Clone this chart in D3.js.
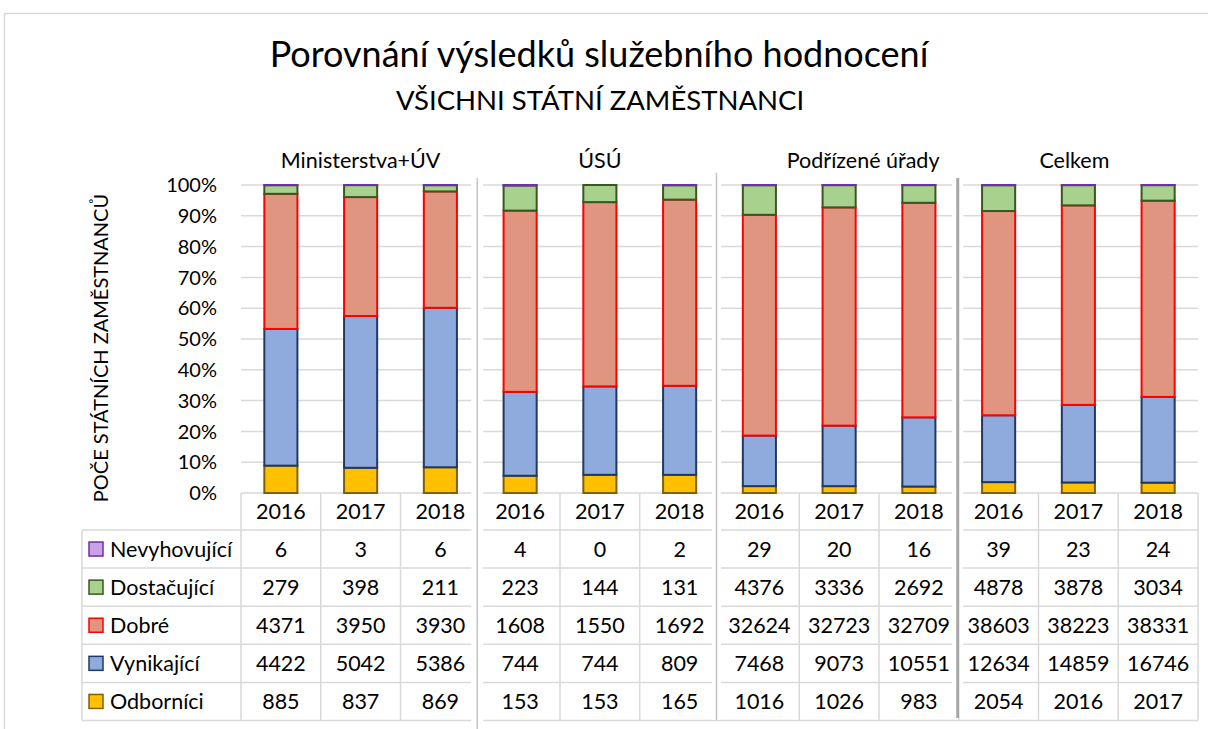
<!DOCTYPE html>
<html>
<head>
<meta charset="UTF-8">
<title>Porovnání výsledků služebního hodnocení</title>
<style>
  body { margin: 0; background: #fff; }
  svg { display: block; font-family: Lato, "Open Sans", sans-serif; }
</style>
</head>
<body>
<svg></svg>
<script src="https://d3js.org/d3.v7.min.js"></script>
<script>

// data
const groups = ["Ministerstva+ÚV", "ÚSÚ", "Podřízené úřady", "Celkem"];
const years = ["2016", "2017", "2018"];
const categories = ["Odborníci", "Vynikající", "Dobré", "Dostačující", "Nevyhovující"];

const odbornici    = [885, 837, 869, 153, 153, 165, 1016, 1026, 983, 2054, 2016, 2017];
const vynikajici   = [4422, 5042, 5386, 744, 744, 809, 7468, 9073, 10551, 12634, 14859, 16746];
const dobre        = [4371, 3950, 3930, 1608, 1550, 1692, 32624, 32723, 32709, 38603, 38223, 38331];
const dostacujici  = [279, 398, 211, 223, 144, 131, 4376, 3336, 2692, 4878, 3878, 3034];
const nevyhovujici = [6, 3, 6, 4, 0, 2, 29, 20, 16, 39, 23, 24];

const yTicks = [0, 0.1, 0.2, 0.3, 0.4, 0.5, 0.6, 0.7, 0.8, 0.9, 1];

const fills   = ["#FFC000", "#8FAADC", "#E09580", "#A9D18E", "#CBA2EA"];
const strokes = ["#7F6000", "#203864", "#FF0000", "#385723", "#7030A0"];

let width = 1208, height = 729;
let svg = d3.select("svg").attr("width", width).attr("height", height);

// one row per column of the chart
let rows = [];
groups.forEach((g, gi) => {
  years.forEach((yr, yi) => {
    let i = gi * 3 + yi;
    rows.push({
      key: g + "|" + yr, group: g, year: yr,
      "Odborníci": odbornici[i], "Vynikající": vynikajici[i], "Dobré": dobre[i],
      "Dostačující": dostacujici[i], "Nevyhovující": nevyhovujici[i]
    });
  });
});

let x = d3.scaleBand().domain(rows.map(d => d.key)).range([241, 1198]);
let y = d3.scaleLinear().domain([0, 1]).range([493, 185]);
let barW = x.bandwidth() * 0.415;

// chart frame
svg.append("rect").attr("x", 4.5).attr("y", 13.5).attr("width", 1300).attr("height", 800)
  .attr("fill", "none").attr("stroke", "#d9d9d9").attr("stroke-width", 1.5);

// titles
svg.append("text").attr("x", 599).attr("y", 67).attr("text-anchor", "middle")
  .style("font-size", "36px").text("Porovnání výsledků služebního hodnocení");
svg.append("text").attr("x", 600).attr("y", 110).attr("text-anchor", "middle")
  .style("font-size", "27.5px").text("VŠICHNI STÁTNÍ ZAMĚSTNANCI");

// group headings
groups.forEach((g, gi) => {
  let cx = x(g + "|2017") + x.bandwidth() / 2 + (gi == 2 ? 24 : 0) + (gi == 3 ? -4 : 0);
  svg.append("text").attr("x", cx).attr("y", 168).attr("text-anchor", "middle")
    .style("font-size", "21.5px").text(g);
});

// gridlines
svg.append("g").selectAll("line").data(yTicks).enter().append("line")
  .attr("x1", 241).attr("x2", 1198)
  .attr("y1", d => y(d)).attr("y2", d => y(d))
  .attr("stroke", "#d9d9d9").attr("stroke-width", 1.5);

// y axis labels
svg.append("g").selectAll("text").data(yTicks).enter().append("text")
  .attr("x", 217).attr("y", d => y(d)).attr("dy", "0.36em")
  .attr("text-anchor", "end").style("font-size", "20px")
  .text(d => d3.format(".0%")(d));

svg.append("text")
  .attr("transform", "translate(108,348) rotate(-90)")
  .attr("text-anchor", "middle").style("font-size", "20px")
  .text("POČE STÁTNÍCH ZAMĚSTNANCŮ");

// stacked bars, 100 %
let stack = d3.stack().keys(categories).offset(d3.stackOffsetExpand);
let series = stack(rows);

svg.append("g").selectAll("g").data(series).enter().append("g")
  .attr("fill", (d, i) => fills[i]).attr("stroke", (d, i) => strokes[i])
  .attr("stroke-width", 2)
  .selectAll("rect").data(d => d).enter().append("rect")
    .attr("x", d => x(d.data.key) + (x.bandwidth() - barW) / 2)
    .attr("y", d => y(d[1]))
    .attr("width", barW)
    .attr("height", d => y(d[0]) - y(d[1]));

// data table
let rowH = 38.1;
let tableTop = 493, headH = 37;
let tableRows = categories.slice().reverse();
let table = svg.append("g").attr("stroke", "#d9d9d9").attr("stroke-width", 1.5);
let tableBottom = tableTop + headH + rowH * tableRows.length;

for (let r = 0; r <= tableRows.length; r++) {
  let yy = tableTop + headH + r * rowH;
  table.append("line").attr("x1", 82).attr("x2", 1198).attr("y1", yy).attr("y2", yy);
}
rows.forEach(d => {
  table.append("line").attr("x1", x(d.key)).attr("x2", x(d.key))
    .attr("y1", tableTop).attr("y2", tableBottom);
});
table.append("line").attr("x1", 1198).attr("x2", 1198).attr("y1", tableTop).attr("y2", tableBottom);
table.append("line").attr("x1", 82).attr("x2", 82).attr("y1", tableTop + headH).attr("y2", tableBottom);

// year header
svg.append("g").selectAll("text").data(rows).enter().append("text")
  .attr("x", d => x(d.key) + x.bandwidth() / 2)
  .attr("y", tableTop + headH / 2).attr("dy", "0.36em")
  .attr("text-anchor", "middle").style("font-size", "21.5px")
  .text(d => d.year);

tableRows.forEach((c, r) => {
  let cy = tableTop + headH + r * rowH + rowH / 2;
  let ci = categories.indexOf(c);
  svg.append("rect").attr("x", 89).attr("y", cy - 7).attr("width", 14).attr("height", 14)
    .attr("fill", fills[ci]).attr("stroke", strokes[ci]).attr("stroke-width", 1.5);
  svg.append("text").attr("x", 110).attr("y", cy).attr("dy", "0.36em")
    .style("font-size", "21.5px").text(c);
  svg.append("g").selectAll("text").data(rows).enter().append("text")
    .attr("x", d => x(d.key) + x.bandwidth() / 2)
    .attr("y", cy).attr("dy", "0.36em")
    .attr("text-anchor", "middle").style("font-size", "21.5px")
    .text(d => d[c]);
});

// group separators, with a white gap where they cross the grid
let seps = [
  { after: 0, top: 178, bottom: 729, w: 1.5, color: "#c4c4c4", gap: 12 },
  { after: 1, top: 173, bottom: 720, w: 1.5, color: "#c4c4c4", gap: 9 },
  { after: 2, top: 178, bottom: 718, w: 3, color: "#a6a6a6", gap: 11 }
];
seps.forEach(s => {
  let sx = x(groups[s.after + 1] + "|2016") - 3 + (s.after == 2 ? 2 : 0);
  svg.append("line").attr("x1", sx).attr("x2", sx).attr("y1", s.top).attr("y2", s.bottom)
    .attr("stroke", "#fff").attr("stroke-width", s.gap);
  svg.append("line").attr("x1", sx).attr("x2", sx).attr("y1", s.top).attr("y2", s.bottom)
    .attr("stroke", s.color).attr("stroke-width", s.w);
});

</script>
</body>
</html>
